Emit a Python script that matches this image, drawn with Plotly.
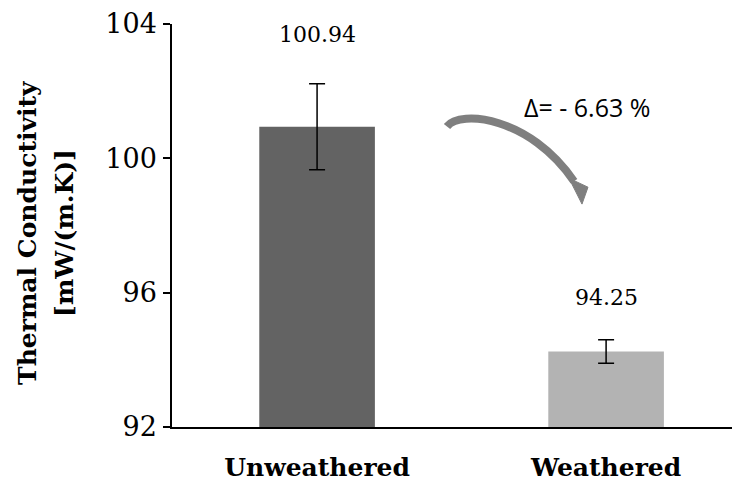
import plotly.graph_objects as go

categories = ["Unweathered", "Weathered"]
values = [100.94, 94.25]
errors = [1.28, 0.35]
value_labels = ["100.94", "94.25"]
bar_colors = ["#636363", "#b3b3b3"]
y_ticks = [92, 96, 100, 104]
delta_text = "Δ= - 6.63 %"

SERIF = "DejaVu Serif"

fig = go.Figure()
fig.add_trace(go.Bar(
    x=categories, y=values, width=0.4,
    marker=dict(color=bar_colors, line=dict(width=0)),
    error_y=dict(type="data", array=errors, visible=True,
                 color="black", thickness=1.5, width=8),
    showlegend=False,
))

label_shift = [49, 42]
for c, v, e, t, s in zip(categories, values, errors, value_labels, label_shift):
    fig.add_annotation(x=c, y=v + e, text=t, showarrow=False,
                       yanchor="middle", yshift=s,
                       font=dict(family=SERIF, size=22, color="black"))

# y-axis title (two lines)
fig.add_annotation(xref="paper", yref="paper", x=-0.25, y=0.4815,
                   text="<b>Thermal Conductivity</b>", textangle=-90,
                   showarrow=False, xanchor="center", yanchor="middle",
                   font=dict(family=SERIF, size=25, color="black"))
fig.add_annotation(xref="paper", yref="paper", x=-0.1858, y=0.4815,
                   text="<b>[mW/(m.K)]</b>", textangle=-90,
                   showarrow=False, xanchor="center", yanchor="middle",
                   font=dict(family=SERIF, size=25, color="black"))

# curved arrow
fig.add_shape(type="path", xref="paper", yref="paper",
              path="M 0.4774,0.7457 C 0.5000,0.7877 0.6215,0.7704 0.6979,0.6099",
              line=dict(color="#7f7f7f", width=8))
fig.add_shape(type="path", xref="paper", yref="paper",
              path="M 0.6892,0.6173 L 0.7222,0.5951 L 0.7118,0.5531 Z",
              fillcolor="#7f7f7f", line=dict(color="#7f7f7f", width=1))
fig.add_annotation(xref="paper", yref="paper", x=0.7205, y=0.795,
                   text=delta_text, showarrow=False,
                   xanchor="center", yanchor="middle",
                   font=dict(family="Open Sans", size=25, color="black"))

fig.update_layout(
    width=740, height=481,
    margin=dict(l=164, r=0, t=14, b=62),
    paper_bgcolor="white", plot_bgcolor="white",
    bargap=0.6,
)
fig.update_xaxes(
    type="category", range=[-0.502, 1.491],
    showline=True, linecolor="black", linewidth=1.5,
    ticks="", showgrid=False, zeroline=False,
    ticklabelstandoff=17,
    tickfont=dict(family=SERIF, size=25, color="black"),
    tickprefix="<b>", ticksuffix="</b>",
)
fig.update_yaxes(
    range=[92, 104], tickvals=y_ticks,
    showline=True, linecolor="black", linewidth=1.5,
    ticks="outside", ticklen=7, tickwidth=1.5, tickcolor="black",
    showgrid=False, zeroline=False,
    ticklabeloverflow="allow", ticklabelstandoff=1,
    tickfont=dict(family=SERIF, size=27, color="black"),
)

fig.write_html("out.html")
